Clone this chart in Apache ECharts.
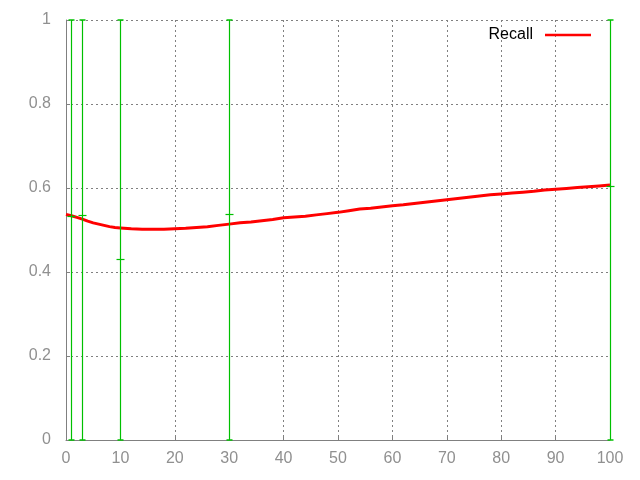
<!DOCTYPE html>
<html>
<head>
<meta charset="utf-8">
<script src="https://cdn.jsdelivr.net/npm/echarts@6/dist/echarts.min.js"></script>
<style>html,body{margin:0;padding:0;background:#fff}#c{width:640px;height:480px}</style>
</head>
<body>
<div id="c"></div>
<script>
const xValues = [0,1,2,3,4,5,6,7,8,9,10,12,14,16,18,20,22,24,26,28,30,32,34,36,38,40,42,44,46,48,50,52,54,56,58,60,62,64,66,68,70,72,74,76,78,80,82,84,86,88,90,92,94,96,98,100];
const recall = [0.537,0.534,0.530,0.526,0.521,0.517,0.514,0.511,0.508,0.506,0.505,0.503,0.502,0.502,0.502,0.503,0.504,0.506,0.508,0.511,0.514,0.517,0.519,0.522,0.525,0.529,0.531,0.533,0.536,0.539,0.542,0.546,0.550,0.552,0.555,0.558,0.560,0.563,0.566,0.569,0.572,0.575,0.578,0.581,0.584,0.586,0.588,0.590,0.592,0.595,0.597,0.599,0.601,0.603,0.605,0.607];
const errX = [1,3,10,30,100];
const errMid = [0.533,0.536,0.430,0.537,0.605];
const errLow = [0,0,0,0,0];
const errHigh = [1,1,1,1,1];
const xTicks = [0,10,20,30,40,50,60,70,80,90,100];
const yTicks = [0,0.2,0.4,0.6,0.8,1];

const chart = echarts.init(document.getElementById('c'), null, {renderer:'canvas'});
const lineData = xValues.map((x,i)=>[x,recall[i]]);
const errData = errX.map((x,i)=>[x,errLow[i],errHigh[i],errMid[i]]);
const green = '#00c000';
const font = 'Liberation Sans, Arial, sans-serif';
chart.setOption({
  animation:false,
  backgroundColor:'#ffffff',
  grid:{left:66,right:30,top:20,bottom:40,containLabel:false},
  legend:{
    data:['Recall'], right:44, top:22, align:'right',
    icon:'rect', itemWidth:46, itemHeight:2.5,
    textStyle:{color:'#000', fontSize:16, fontFamily:font, padding:[0,7,0,0]}
  },
  xAxis:{
    type:'value', min:xTicks[0], max:xTicks[xTicks.length-1], interval:10,
    axisLine:{show:true, lineStyle:{color:'#808080', width:1}},
    axisTick:{show:true, inside:true, length:4, lineStyle:{color:'#808080'}},
    axisLabel:{color:'#909090', fontSize:16, fontFamily:font, margin:11},
    splitLine:{show:true, lineStyle:{color:'#808080', type:[2,3], width:1}}
  },
  yAxis:{
    type:'value', min:yTicks[0], max:yTicks[yTicks.length-1], interval:0.2,
    axisLine:{show:true, lineStyle:{color:'#808080', width:1}},
    axisTick:{show:true, inside:true, length:4, lineStyle:{color:'#808080'}},
    axisLabel:{color:'#909090', fontSize:16, fontFamily:font, margin:15},
    splitLine:{show:true, lineStyle:{color:'#808080', type:[2,3], width:1}}
  },
  series:[
    {
      name:'Recall', type:'line', data:lineData, showSymbol:false, symbol:'none',
      smooth:false, color:'#ff0000', lineStyle:{color:'#ff0000', width:3}, z:2
    },
    {
      name:'err', type:'custom', data:errData, z:3, clip:false,
      renderItem:function(params, api){
        const x = api.value(0), lo = api.value(1), hi = api.value(2), mid = api.value(3);
        const pLo = api.coord([x,lo]), pHi = api.coord([x,hi]), pM = api.coord([x,mid]);
        const cx = Math.round(pLo[0]) + 0.5;
        const st = {stroke:green, lineWidth:1.2};
        return {type:'group', children:[
          {type:'line', shape:{x1:cx,y1:pLo[1],x2:cx,y2:pHi[1]}, style:st},
          {type:'line', shape:{x1:cx-3,y1:pHi[1],x2:cx+3,y2:pHi[1]}, style:{stroke:green,lineWidth:1.5}},
          {type:'line', shape:{x1:cx-3,y1:pLo[1],x2:cx+3,y2:pLo[1]}, style:{stroke:green,lineWidth:1.5}},
          {type:'line', shape:{x1:cx-4,y1:Math.round(pM[1])+0.5,x2:cx+4,y2:Math.round(pM[1])+0.5}, style:st}
        ]};
      }
    }
  ]
});
</script>
</body>
</html>
